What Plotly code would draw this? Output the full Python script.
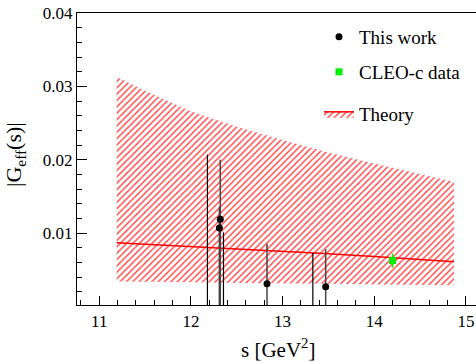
import plotly.graph_objects as go

# ---------------- data ----------------
# This work: points with visible central values
tw_s = [12.31, 12.32, 12.83, 13.47]
tw_val = [0.0107, 0.0119, 0.0031, 0.0027]
tw_upper = [0.0136, 0.0200, 0.0085, 0.0078]
tw_lower = [0.0, 0.0, 0.0, 0.0]

# This work: points whose central value lies below the frame (only bars visible)
lim_s = [12.18, 12.355, 13.33]
lim_val = [0.0, 0.0, 0.0]
lim_upper = [0.0207, 0.0101, 0.0073]

# CLEO-c data
cleo_s = [14.2]
cleo_val = [0.00625]
cleo_err = [0.00095]

# Theory band
th_s = [11.19, 11.5, 12.0, 12.5, 13.0, 13.5, 14.0, 14.5, 14.87]
th_up = [0.0313, 0.0294, 0.0266, 0.0245, 0.0227, 0.0210, 0.0195, 0.0181, 0.0170]
th_mid = [0.0087, 0.0085, 0.0082, 0.0079, 0.0076, 0.0072, 0.0068, 0.0064, 0.0061]
th_lo = [0.0034, 0.0034, 0.0033, 0.0032, 0.0032, 0.0031, 0.0030, 0.0030, 0.0029]

FONT = "Liberation Serif, Times New Roman, serif"
W, H = 476, 363
L, R, T, B = 77, 0, 13, 58
PW, PH = W - L - R, H - T - B


def px_x(p):
    return (p - L) / PW


def px_y(p):
    return (H - B - p) / PH


pattern = dict(shape="/", fgcolor="rgba(255,30,30,0.85)", bgcolor="rgba(0,0,0,0)",
               size=4.5, solidity=0.32, fillmode="replace")

fig = go.Figure()

# theory band: upper edge, centre line (filled to upper), lower edge (filled to centre)
fig.add_trace(go.Scatter(x=th_s, y=th_up, mode="lines", line=dict(width=0, color="red"),
                         showlegend=False, hoverinfo="skip"))
fig.add_trace(go.Scatter(x=th_s, y=th_mid, mode="lines", name="Theory",
                         line=dict(width=1.5, color="red"), fill="tonexty",
                         fillcolor="rgba(0,0,0,0)", fillpattern=pattern, legend="legend3"))
fig.add_trace(go.Scatter(x=th_s, y=th_lo, mode="lines", line=dict(width=0, color="red"),
                         fill="tonexty", fillcolor="rgba(0,0,0,0)", fillpattern=pattern,
                         showlegend=False, hoverinfo="skip"))

# bars whose central points are below the frame
fig.add_trace(go.Scatter(
    x=lim_s, y=lim_val, mode="markers",
    marker=dict(size=1, color="rgba(0,0,0,0)"),
    error_y=dict(type="data", symmetric=False,
                 array=[u - v for u, v in zip(lim_upper, lim_val)],
                 arrayminus=[0.0] * len(lim_val), width=0, thickness=1.2, color="black"),
    showlegend=False, hoverinfo="skip"))

# This work
fig.add_trace(go.Scatter(
    x=tw_s, y=tw_val, mode="markers", name="This work",
    marker=dict(size=7, color="black", symbol="circle"),
    error_y=dict(type="data", symmetric=False,
                 array=[u - v for u, v in zip(tw_upper, tw_val)],
                 arrayminus=[v - lo for v, lo in zip(tw_val, tw_lower)],
                 width=0, thickness=1.5, color="#444444"),
    legend="legend"))

# CLEO-c
fig.add_trace(go.Scatter(
    x=cleo_s, y=cleo_val, mode="markers", name="CLEO-c data",
    marker=dict(size=7, color="#00ee00", symbol="square"),
    error_y=dict(type="data", array=cleo_err, width=0, thickness=1.5, color="#00ee00"),
    legend="legend2"))

leg_common = dict(font=dict(family=FONT, size=19, color="black"), bgcolor="rgba(0,0,0,0)",
                  xanchor="left", yanchor="middle", x=px_x(319))

fig.update_layout(
    width=W, height=H,
    margin=dict(l=L, r=R, t=T, b=B, autoexpand=False),
    paper_bgcolor="white", plot_bgcolor="white",
    font=dict(family=FONT, size=17, color="black"),
    showlegend=True,
    legend=dict(**leg_common, y=px_y(37)),
    legend2=dict(**leg_common, y=px_y(72)),
    legend3=dict(**leg_common, y=px_y(114)),
    xaxis=dict(range=[10.757, 15.11], tick0=11, dtick=1, ticks="inside", ticklen=9,
               tickwidth=1, tickcolor="black", showgrid=False, zeroline=False,
               showline=True, linecolor="black", linewidth=1.2, mirror=True,
               tickfont=dict(family=FONT, size=17),
               minor=dict(dtick=0.2, ticks="inside", ticklen=5, tickcolor="black", showgrid=False)),
    yaxis=dict(range=[0.0002, 0.04], tick0=0, dtick=0.01, tickformat=".2f", ticks="inside",
               ticklen=10, tickwidth=1, tickcolor="black", showgrid=False, zeroline=False,
               showline=True, linecolor="black", linewidth=1.2,
               tickfont=dict(family=FONT, size=17),
               minor=dict(dtick=0.002, ticks="inside", ticklen=5, tickcolor="black", showgrid=False)),
    annotations=[
        dict(text="s [GeV<sup>2</sup>]", xref="paper", yref="paper", x=px_x(278), y=px_y(348),
             xanchor="center", yanchor="middle", showarrow=False,
             font=dict(family=FONT, size=21, color="black")),
        dict(text="|G<sub>eff</sub>(s)|", xref="paper", yref="paper", x=px_x(15), y=px_y(155),
             xanchor="center", yanchor="middle", textangle=-90, showarrow=False,
             font=dict(family=FONT, size=22, color="black")),
    ],
)

fig.write_html("out.html")
